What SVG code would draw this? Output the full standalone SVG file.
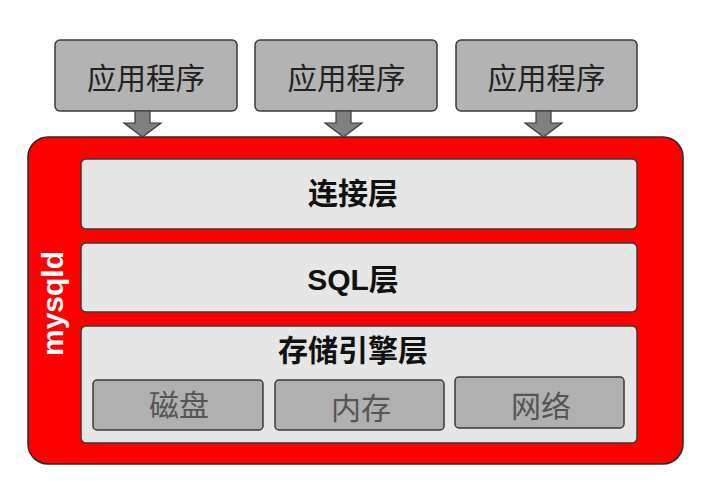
<svg xmlns="http://www.w3.org/2000/svg" width="702" height="481" viewBox="0 0 702 481">
<style>
.app{fill:#b3b3b3;stroke:#3a3a3a;stroke-width:1.5}
.layer{fill:#e6e6e6;stroke:#3a3a3a;stroke-width:1.5}
.sub{fill:#b0b0b0;stroke:#3a3a3a;stroke-width:1.5}
.arrow{fill:#808080;stroke:#3a3a3a;stroke-width:1.2}
.t{font-family:"Liberation Sans","Noto Sans CJK SC",sans-serif;text-anchor:middle}
.tapp{font-size:29.5px;fill:#222}
.tlayer{font-size:30px;font-weight:bold;fill:#111}
.tsub{font-size:30px;fill:#555}
</style>
<rect width="702" height="481" fill="#fff"/>
<g id="mysqld">
<rect x="28" y="137" width="655" height="327" rx="20" fill="#ff0000" stroke="#2a2a2a" stroke-width="1.5"/>
<text class="t" transform="translate(63,303.5) rotate(-90)" font-size="30" font-weight="bold" fill="#fff">mysqld</text>
</g>
<g id="app1"><rect class="app" x="55" y="40" width="182" height="71" rx="5"/><text class="t tapp" x="146" y="89">应用程序</text></g>
<g id="app2"><rect class="app" x="255" y="40" width="182" height="71" rx="5"/><text class="t tapp" x="346.5" y="89">应用程序</text></g>
<g id="app3"><rect class="app" x="456" y="40" width="181" height="71" rx="5"/><text class="t tapp" x="546.5" y="89">应用程序</text></g>
<g id="connectors">
<path class="arrow" d="M135,111 H150 V123 H161 L142.5,137 L124,123 H135 Z"/>
<path class="arrow" d="M336,111 H351 V123 H362 L343.5,137 L325,123 H336 Z"/>
<path class="arrow" d="M536,111 H551 V123 H562 L543.5,137 L525,123 H536 Z"/>
</g>
<g id="conn-layer"><rect class="layer" x="81" y="159" width="556" height="70" rx="5"/><text class="t tlayer" x="353" y="204">连接层</text></g>
<g id="sql-layer"><rect class="layer" x="81" y="243" width="556" height="69" rx="5"/><text class="t tlayer" x="353" y="290">SQL层</text></g>
<g id="storage-layer"><rect class="layer" x="81" y="326" width="556" height="117" rx="5"/><text class="t tlayer" x="353" y="361">存储引擎层</text></g>
<g id="disk"><rect class="sub" x="93" y="380" width="170" height="50" rx="4"/><text class="t tsub" x="179" y="416">磁盘</text></g>
<g id="memory"><rect class="sub" x="275" y="380" width="169" height="50" rx="4"/><text class="t tsub" x="361" y="419">内存</text></g>
<g id="network"><rect class="sub" x="455" y="377" width="169" height="51" rx="4"/><text class="t tsub" x="541" y="417">网络</text></g>
</svg>
